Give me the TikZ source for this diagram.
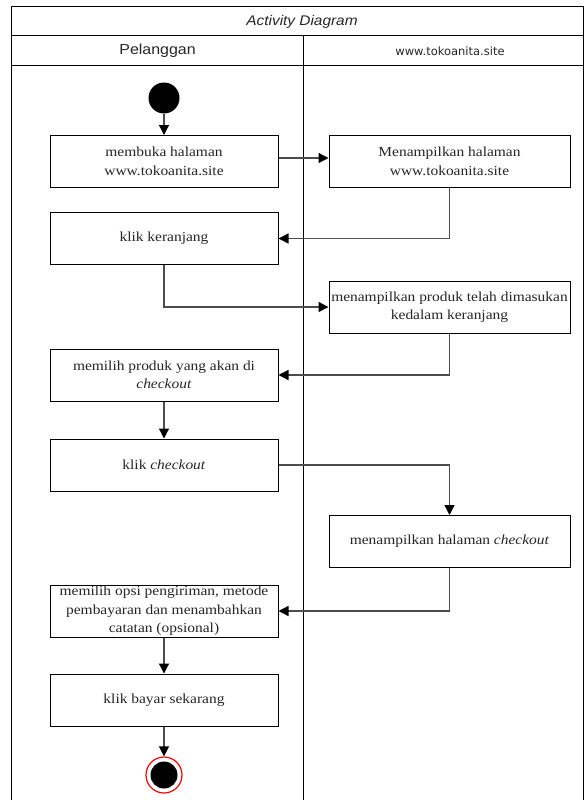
\documentclass[tikz,border=0pt]{standalone}
\usepackage{fontspec}
\setmainfont{Liberation Serif}
\newfontfamily\boxfont[FakeStretch=1.12]{Liberation Serif}
\newfontfamily\headfont[FakeStretch=1.1]{Liberation Sans}
\newfontfamily\urlfont{DejaVu Sans}
\usetikzlibrary{arrows.meta}
\begin{document}
\begin{tikzpicture}[x=1pt,y=-1pt,
  lane/.style={draw=black,line width=1pt},
  actbox/.style={draw=black,line width=1pt,fill=white,minimum width=228pt,minimum height=52pt,
    align=center,inner sep=1pt,font=\boxfont\fontsize{13.8}{18.5}\selectfont,text=black!85},
  wide/.style={minimum width=241pt},
  flow/.style={draw=black!70,line width=1.3pt,-{Triangle[width=10pt,length=10pt,fill=black,color=black]}},
]
\useasboundingbox (0,0) rectangle (584,800);
% swimlane frame
\draw[lane] (11,800) -- (11,7) -- (583,7) -- (583,800);
\draw[lane] (11,36) -- (583,36);
\draw[lane] (11,66) -- (583,66);
\draw[lane] (303,36) -- (303,800);
\node[font=\headfont\itshape\fontsize{14}{16}\selectfont,text=black!85] (title) at (302,21.5) {Activity Diagram};
\node[font=\headfont\fontsize{14.5}{16}\selectfont,text=black!85] (laneA) at (157.5,51) {Pelanggan};
\node[font=\urlfont\fontsize{11.5}{13}\selectfont,text=black!85] (laneB) at (450,51) {www.tokoanita.site};

% start and end
\node[circle,fill=black,minimum size=31pt,inner sep=0pt] (start) at (164,98) {};
\node[circle,draw=red,line width=1.2pt,fill=white,minimum size=36pt,inner sep=0pt] (stop) at (164,775) {};
\node[circle,fill=black,minimum size=27pt,inner sep=0pt] (stopdot) at (164,775) {};

% activities
\node[actbox] (a1) at (164,161.5) {membuka halaman\\www.tokoanita.site};
\node[actbox,wide] (b1) at (449.5,161.5) {Menampilkan halaman\\www.tokoanita.site};
\node[actbox] (a2) at (164,238.5) {klik keranjang};
\node[actbox,wide] (b2) at (449.5,307) {menampilkan produk telah dimasukan\\kedalam keranjang};
\node[actbox] (a3) at (164,375) {memilih produk yang akan di\\\textit{checkout}};
\node[actbox] (a4) at (164,465) {klik \textit{checkout}};
\node[actbox,wide] (b3) at (449.5,541.5) {menampilkan halaman \textit{checkout}};
\node[actbox] (a5) at (164,611) {memilih opsi pengiriman, metode\\pembayaran dan menambahkan\\catatan (opsional)};
\node[actbox] (a6) at (164,700) {klik bayar sekarang};

% transitions
\draw[flow] (start) -- (a1);
\draw[flow] (a1.east |- 0,158) -- (b1.west |- 0,158);
\draw[flow] (b1.south) |- (a2.east);
\draw[flow] (a2.south) |- (b2.west);
\draw[flow] (b2.south) |- (a3.east);
\draw[flow] (a3) -- (a4);
\draw[flow] (a4.east) -| (b3.north);
\draw[flow] (b3.south) |- (a5.east);
\draw[flow] (a5) -- (a6);
\draw[flow] (a6) -- (stop);
\end{tikzpicture}
\end{document}
